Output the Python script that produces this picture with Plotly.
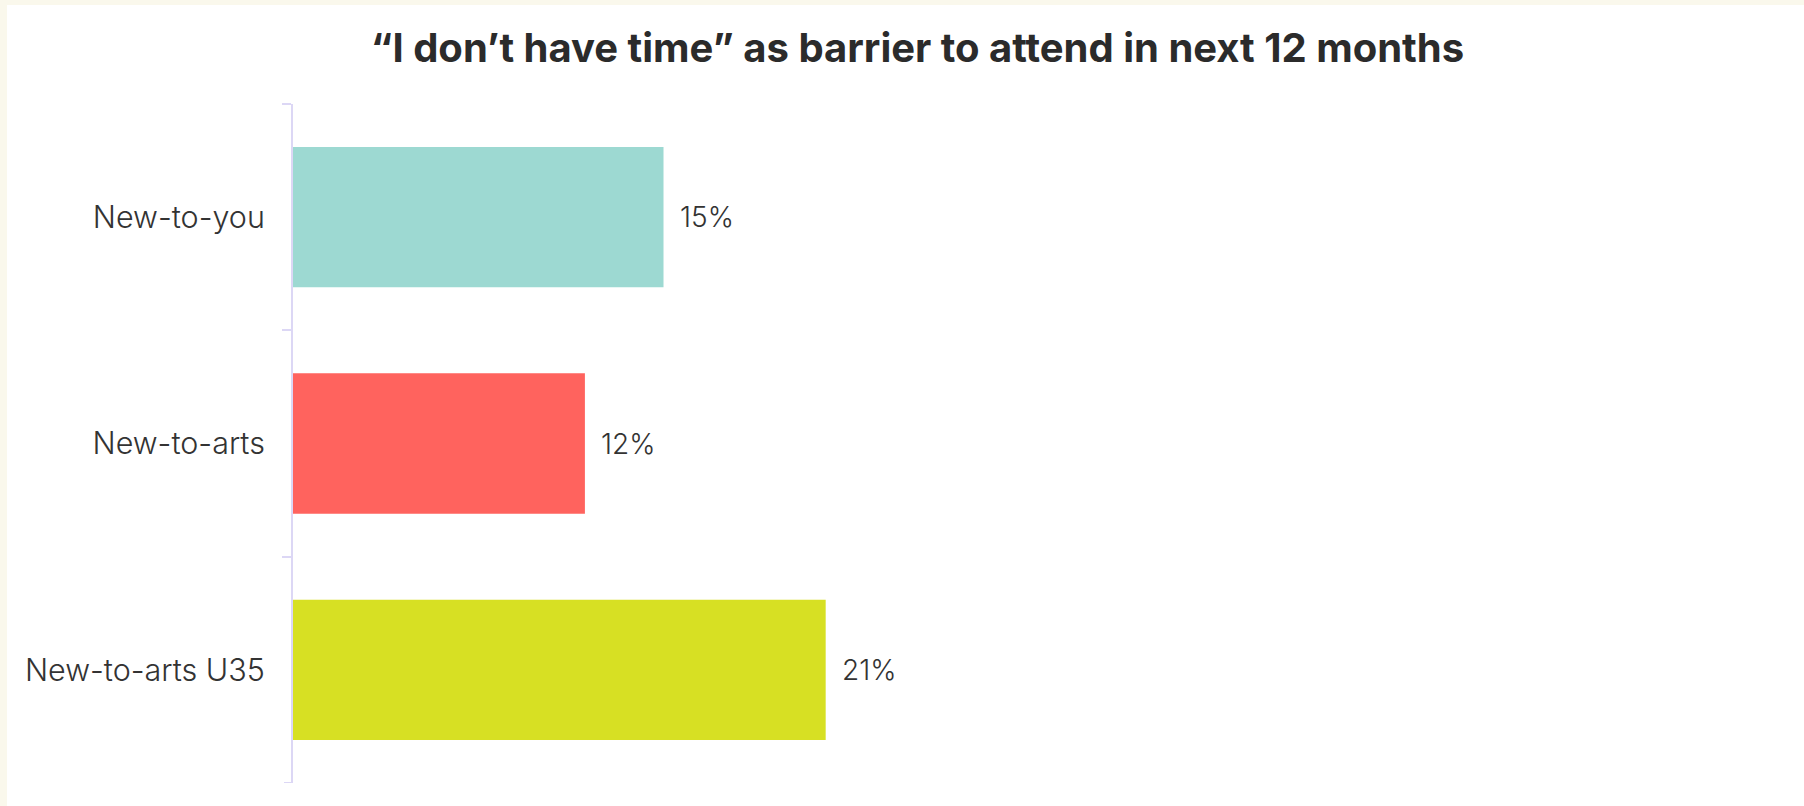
import plotly.graph_objects as go

# ---- data ----
categories = ["New-to-you", "New-to-arts", "New-to-arts U35"]
values = [14.85, 11.7, 21.35]          # percent
bar_colors = ["#9DD9D2", "#FF635E", "#D7E023"]
title_text = "\u201cI don\u2019t have time\u201d as barrier to attend in next 12 months"

W, H = 1804, 806
L, R, T, B = 293, 14, 104, 23
pw, ph = W - L - R, H - T - B

FONT = "Inter, 'Open Sans', sans-serif"
TXT = "#333333"
AXIS = "#DCD7F5"

fig = go.Figure()
fig.add_trace(go.Bar(
    x=values, y=categories, orientation="h",
    marker=dict(color=bar_colors, line=dict(width=0)),
    hoverinfo="skip", showlegend=False,
))

# value labels, anchored to the data
for c, v in zip(categories, values):
    fig.add_annotation(
        x=v, y=c, xref="x", yref="y", text=f"{round(v):.0f}%",
        showarrow=False, xanchor="left", yanchor="middle", xshift=14,
        font=dict(family=FONT, size=28, color=TXT, weight=300),
    )

# cream frame strips (top and left) in paper coords
def px_x(p):
    return (p - L) / pw

def px_y(p):
    return (H - B - p) / ph

cream = "#FAF8EC"
fig.add_shape(type="rect", xref="paper", yref="paper",
              x0=px_x(0), x1=px_x(W), y0=px_y(5), y1=px_y(0),
              fillcolor=cream, line=dict(width=0), layer="below")
fig.add_shape(type="rect", xref="paper", yref="paper",
              x0=px_x(0), x1=px_x(7), y0=px_y(H), y1=px_y(0),
              fillcolor=cream, line=dict(width=0), layer="below")
# closing tick at the bottom boundary of the category axis
fig.add_shape(type="line", xref="paper", yref="y",
              x0=-9 / pw, x1=0, y0=len(categories) - 0.5, y1=len(categories) - 0.5,
              line=dict(color=AXIS, width=2), layer="above")

fig.update_layout(
    width=W, height=H,
    margin=dict(l=L, r=R, t=T, b=B, pad=0),
    paper_bgcolor="white", plot_bgcolor="white",
    bargap=0.38,
    title=dict(text=title_text, x=917.5 / W, xref="container", xanchor="center",
               y=1 - 47.5 / H, yref="container", yanchor="middle",
               font=dict(family=FONT, size=40, color="#2B2B2B", weight=700)),
    xaxis=dict(range=[0, 60], showgrid=False, zeroline=False, showline=False,
               showticklabels=False, ticks="", fixedrange=True),
    yaxis=dict(type="category", categoryorder="array", categoryarray=categories,
               range=[2.5, -0.5], showgrid=False, zeroline=False,
               showline=True, linecolor=AXIS, linewidth=2,
               ticks="outside", tickson="boundaries", ticklen=9, tickcolor=AXIS, tickwidth=2,
               ticklabelstandoff=20,
               tickfont=dict(family=FONT, size=30.5, color=TXT, weight=300), fixedrange=True),
)

fig.write_html("out.html", post_script="document.body.style.margin='0';",
               config={"displayModeBar": False})
